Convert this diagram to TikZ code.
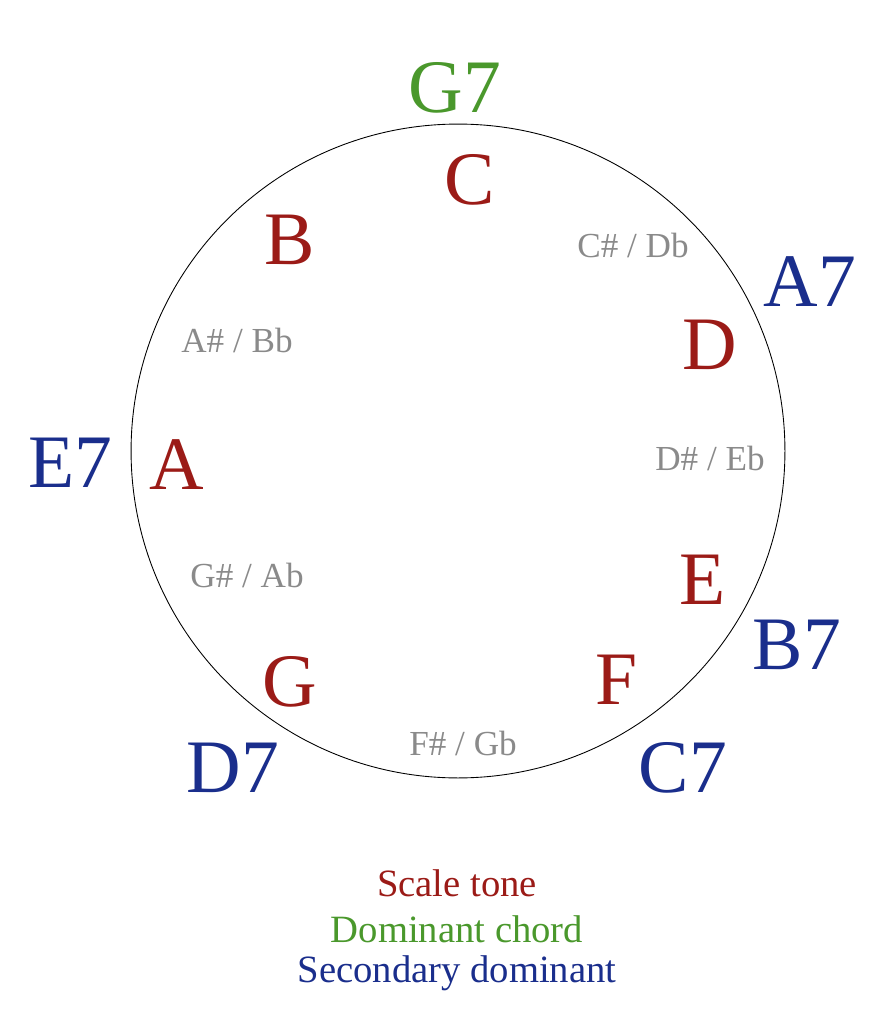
\documentclass[tikz,border=0pt]{standalone}
\usepackage{fontspec}
\setmainfont{Liberation Serif}
\definecolor{tone}{HTML}{9B1B17}
\definecolor{dom}{HTML}{4A982C}
\definecolor{sec}{HTML}{1A2E8C}
\definecolor{chrom}{HTML}{8A8A8A}
\begin{document}
\begin{tikzpicture}[x={(0.02cm,0)},y={(0,-0.02cm)},
  big/.style={font=\fontsize{43}{43}\selectfont},
  tonelbl/.style={big,text=tone},
  domlbl/.style={big,text=dom},
  seclbl/.style={big,text=sec},
  chromlbl/.style={font=\fontsize{20}{20}\selectfont,text=chrom},
  legend/.style={font=\fontsize{22}{22}\selectfont}]
\useasboundingbox (0,0) rectangle (890,1024);
\node[draw,circle,minimum size=13.08cm,inner sep=0pt,line width=0.5pt] (circ) at (458,451) {};
\node[domlbl] (g7) at (455,88) {G7};
\node[tonelbl] (c) at (470,180) {C};
\node[tonelbl] (b) at (290,240) {B};
\node[tonelbl] (d) at (710,345) {D};
\node[tonelbl] (a) at (177,465) {A};
\node[tonelbl] (e) at (703,580) {E};
\node[tonelbl] (f) at (617,680) {F};
\node[tonelbl] (g) at (290,682) {G};
\node[seclbl] (a7) at (810,282) {A7};
\node[seclbl] (e7) at (70,463) {E7};
\node[seclbl] (b7) at (797,645) {B7};
\node[seclbl] (c7) at (683,768) {C7};
\node[seclbl] (d7) at (233,768) {D7};
\node[chromlbl] (cs) at (633,245) {C\# / Db};
\node[chromlbl] (as) at (237,340) {A\# / Bb};
\node[chromlbl] (ds) at (710,458) {D\# / Eb};
\node[chromlbl] (gs) at (247,575) {G\# / Ab};
\node[chromlbl] (fs) at (463,743) {F\# / Gb};
\node[legend,text=tone] (l1) at (457,883) {Scale tone};
\node[legend,text=dom] (l2) at (457,929) {Dominant chord};
\node[legend,text=sec] (l3) at (457,973) {Secondary dominant};
\end{tikzpicture}
\end{document}
